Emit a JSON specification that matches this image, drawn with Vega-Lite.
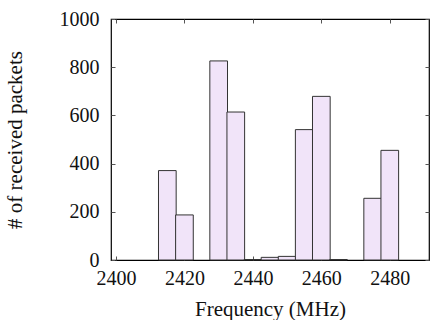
{
  "$schema": "https://vega.github.io/schema/vega-lite/v6.json",
  "width": 318,
  "height": 241,
  "autosize": "none",
  "padding": {"left": 111, "top": 19, "right": 1, "bottom": 60},
  "background": "white",
  "config": {
    "view": {"stroke": "black", "strokeWidth": 1.2},
    "font": "Liberation Serif",
    "axis": {
      "grid": false,
      "domain": false,
      "tickColor": "#555",
      "tickSize": -4,
      "tickWidth": 1,
      "labelFont": "Liberation Serif",
      "labelFontSize": 20,
      "labelColor": "#111",
      "titleFont": "Liberation Serif",
      "titleFontSize": 21,
      "titleFontWeight": "normal",
      "titleColor": "#111",
      "format": "d"
    }
  },
  "data": {
    "values": [
      {"freq": 2415, "count": 371},
      {"freq": 2420, "count": 187},
      {"freq": 2430, "count": 826},
      {"freq": 2435, "count": 614},
      {"freq": 2440, "count": 2},
      {"freq": 2445, "count": 11},
      {"freq": 2450, "count": 15},
      {"freq": 2455, "count": 541},
      {"freq": 2460, "count": 679},
      {"freq": 2465, "count": 2},
      {"freq": 2475, "count": 256},
      {"freq": 2480, "count": 455}
    ]
  },
  "layer": [
    {
      "mark": {"type": "bar", "width": 17.67, "fill": "#f1e4f9", "stroke": "#333", "strokeWidth": 1},
      "encoding": {
        "x": {
          "field": "freq", "type": "quantitative",
          "scale": {"domain": [2400, 2490], "nice": false, "zero": false},
          "axis": {"values": [2400, 2420, 2440, 2460, 2480], "title": "Frequency (MHz)", "labelPadding": 12, "titlePadding": 10}
        },
        "y": {
          "field": "count", "type": "quantitative",
          "scale": {"domain": [0, 1000], "nice": false},
          "axis": {"values": [0, 200, 400, 600, 800, 1000], "title": "# of received packets", "labelPadding": 16, "titlePadding": 34}
        }
      }
    },
    {
      "mark": {"type": "bar", "width": 17.67, "opacity": 0},
      "encoding": {
        "x": {
          "field": "freq", "type": "quantitative",
          "scale": {"domain": [2400, 2490], "nice": false, "zero": false},
          "axis": {"orient": "top", "values": [2400, 2420, 2440, 2460, 2480], "labels": false, "title": null}
        },
        "y": {
          "field": "count", "type": "quantitative",
          "scale": {"domain": [0, 1000], "nice": false},
          "axis": {"orient": "right", "values": [0, 200, 400, 600, 800, 1000], "labels": false, "title": null}
        }
      }
    }
  ],
  "resolve": {"axis": {"x": "independent", "y": "independent"}}
}
